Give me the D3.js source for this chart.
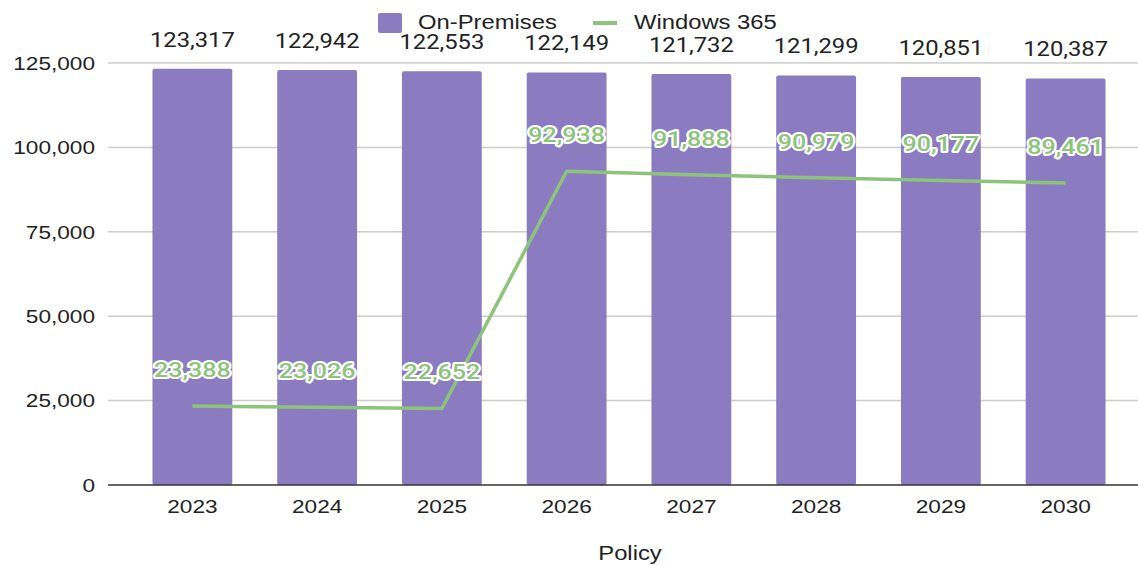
<!DOCTYPE html>
<html>
<head>
<meta charset="utf-8">
<script src="https://cdn.jsdelivr.net/npm/d3@7"></script>
<style>
  body { margin: 0; background: #fff; }
  svg { display: block; }
</style>
</head>
<body>
<div id="chart"></div>
<script>
const years      = ['2023', '2024', '2025', '2026', '2027', '2028', '2029', '2030'];
const onPrem     = [123317, 122942, 122553, 122149, 121732, 121299, 120851, 120387];
const windows365 = [23388, 23026, 22652, 92938, 91888, 90979, 90177, 89461];
const yTicks     = [0, 25000, 50000, 75000, 100000, 125000];

const W = 1138, H = 565;
const PURPLE = '#8b7cc1';
const GREEN  = '#8cc47b';
const SX = 1.19; // the source chart's text is stretched horizontally
const fmt = d3.format(',');

// position text with a horizontal stretch
const at = (tx, ty) => `translate(${tx},${ty}) scale(${SX},1)`;

const svg = d3.select('#chart').append('svg')
  .attr('width', W).attr('height', H);

const x = d3.scaleBand().domain(years).range([130, 1128])
  .paddingInner(0.36).paddingOuter(0.18);
const y = d3.scaleLinear().domain([0, 125000]).range([485, 63]);
const cx = d => x(d) + x.bandwidth() / 2;

// gridlines + y labels
svg.append('g').selectAll('line').data(yTicks.filter(d => d > 0)).join('line')
  .attr('x1', 108).attr('x2', W)
  .attr('y1', d => y(d)).attr('y2', d => y(d))
  .attr('stroke', '#cccccc').attr('stroke-width', 1.5);

svg.append('g').selectAll('text').data(yTicks).join('text')
  .attr('transform', d => at(95, y(d)))
  .attr('text-anchor', 'end').attr('dominant-baseline', 'central')
  .attr('font-family', 'Liberation Sans, Arial, sans-serif')
  .attr('font-size', 19).attr('fill', '#222')
  .text(d => fmt(d));

// bars
svg.append('g').selectAll('rect').data(years).join('rect')
  .attr('x', d => x(d)).attr('width', x.bandwidth())
  .attr('y', (d, i) => y(onPrem[i]))
  .attr('height', (d, i) => y(0) - y(onPrem[i]))
  .attr('rx', 2)
  .attr('fill', PURPLE);

// x axis line
svg.append('line')
  .attr('x1', 108).attr('x2', W).attr('y1', y(0)).attr('y2', y(0))
  .attr('stroke', '#333').attr('stroke-width', 1.5);

svg.append('g').selectAll('text').data(years).join('text')
  .attr('transform', d => at(cx(d), 506))
  .attr('text-anchor', 'middle').attr('dominant-baseline', 'central')
  .attr('font-family', 'Liberation Sans, Arial, sans-serif')
  .attr('font-size', 19).attr('fill', '#222')
  .text(d => d);

svg.append('text')
  .attr('transform', at(630, 553))
  .attr('text-anchor', 'middle').attr('dominant-baseline', 'central')
  .attr('font-family', 'Liberation Sans, Arial, sans-serif')
  .attr('font-size', 20).attr('fill', '#222')
  .text('Policy');

// bar value labels
svg.append('g').selectAll('text').data(years).join('text')
  .attr('transform', (d, i) => at(cx(d), y(onPrem[i]) - 29))
  .attr('text-anchor', 'middle').attr('dominant-baseline', 'central')
  .attr('font-family', 'Roboto, sans-serif')
  .attr('font-size', 20).attr('fill', '#222')
  .text((d, i) => fmt(onPrem[i]));

// line
const line = d3.line()
  .x((d, i) => cx(years[i]))
  .y(d => y(d));

svg.append('path')
  .datum(windows365)
  .attr('d', line)
  .attr('fill', 'none').attr('stroke', GREEN).attr('stroke-width', 3.5)
  .attr('stroke-linejoin', 'round');

svg.append('g').selectAll('text').data(windows365).join('text')
  .attr('transform', (d, i) => at(cx(years[i]), y(d) - 36))
  .attr('text-anchor', 'middle').attr('dominant-baseline', 'central')
  .attr('font-family', 'Roboto, sans-serif')
  .attr('font-size', 21).attr('font-weight', 500)
  .attr('fill', GREEN).attr('stroke', '#fff').attr('stroke-width', 4)
  .attr('stroke-linejoin', 'round').attr('paint-order', 'stroke')
  .text(d => fmt(d));

// legend
const legend = svg.append('g').attr('font-family', 'Liberation Sans, Arial, sans-serif')
  .attr('font-size', 20).attr('fill', '#222');
legend.append('rect').attr('x', 378).attr('y', 13).attr('width', 24).attr('height', 20)
  .attr('rx', 2).attr('fill', PURPLE);
legend.append('text').attr('transform', at(418, 22)).attr('dominant-baseline', 'central')
  .text('On-Premises');
legend.append('line').attr('x1', 593).attr('x2', 617).attr('y1', 23).attr('y2', 23)
  .attr('stroke', GREEN).attr('stroke-width', 4);
legend.append('text').attr('transform', at(634, 22)).attr('dominant-baseline', 'central')
  .text('Windows 365');
</script>
</body>
</html>
